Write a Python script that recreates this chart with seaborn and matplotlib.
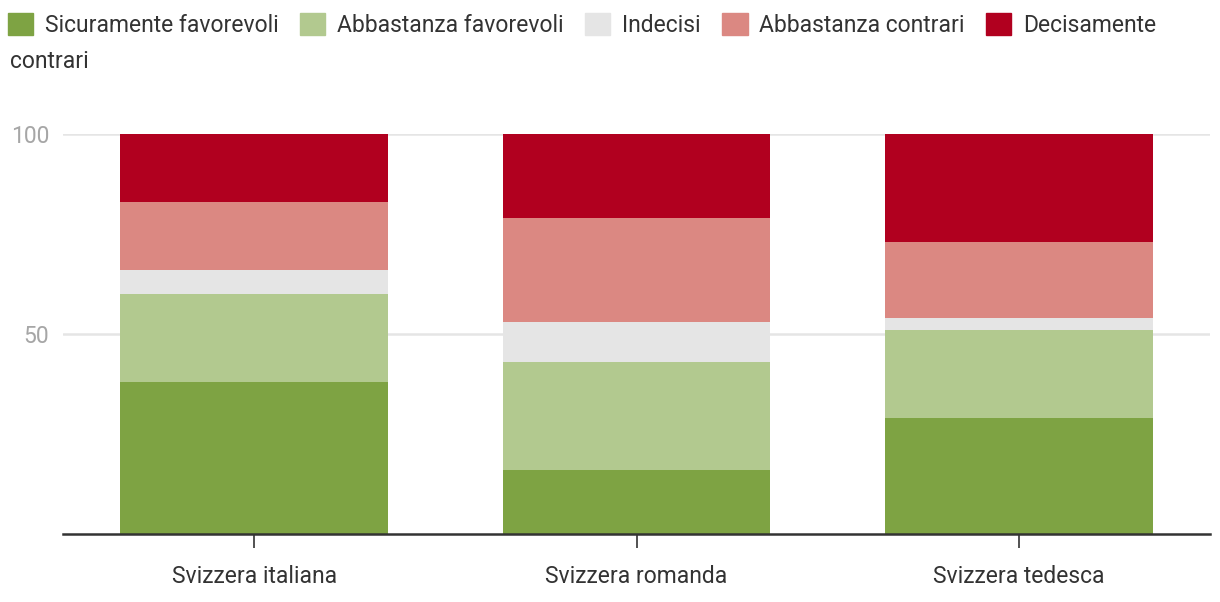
import numpy as np
import pandas as pd
import matplotlib
matplotlib.use("Agg")
import matplotlib.pyplot as plt
import matplotlib.patches as mpatches
import seaborn as sns

# Data (percent)
regions = ["Svizzera italiana", "Svizzera romanda", "Svizzera tedesca"]
categories = ["Sicuramente favorevoli", "Abbastanza favorevoli", "Indecisi",
              "Abbastanza contrari", "Decisamente contrari"]
sicuramente_fav = [38, 16, 29]
abbastanza_fav = [22, 27, 22]
indecisi = [6, 10, 3]
abbastanza_con = [17, 26, 19]
decisamente_con = [17, 21, 27]
colors = ["#7ea343", "#b2c98f", "#e5e5e5", "#db8882", "#b1001f"]

series = [sicuramente_fav, abbastanza_fav, indecisi, abbastanza_con, decisamente_con]
df = pd.DataFrame({"region": regions})
for cat, vals in zip(categories, series):
    df[cat] = vals
# cumulative tops so bars can be layered from the top down
cum = df[categories].cumsum(axis=1)

sns.set_style("white")
plt.rcParams["font.family"] = ["Roboto", "DejaVu Sans"]

fig = plt.figure(figsize=(12.2, 6.02), dpi=100)
ax = fig.add_axes([63 / 1220, 68 / 602, 1147 / 1220, 400 / 602])

for cat, col in reversed(list(zip(categories, colors))):
    sns.barplot(x=df["region"], y=cum[cat], color=col, width=0.7,
                saturation=1, linewidth=0, edgecolor="none", ax=ax, zorder=3)

ax.set_xlim(-0.5, 2.5)
ax.set_ylim(0, 100)
ax.set_yticks([50, 100])
ax.set_xlabel("")
ax.set_ylabel("")
ax.grid(axis="y", color="#e5e5e5", linewidth=1.8, zorder=0)
ax.set_axisbelow(True)
for s in ["top", "right", "left"]:
    ax.spines[s].set_visible(False)
ax.spines["bottom"].set_color("#333333")
ax.spines["bottom"].set_linewidth(1.8)
ax.spines["bottom"].set_zorder(5)
ax.tick_params(axis="x", bottom=True, direction="out", length=10, width=1.2,
               color="#333333", labelsize=16.5, labelcolor="#333333", pad=12)
ax.tick_params(axis="y", left=False, length=0, labelsize=16.5,
               labelcolor="#a6a6a6", pad=10)

# legend (wraps onto a second line in the reference)
handles = [mpatches.Patch(color=c) for c in colors]
labels = categories[:-1] + ["Decisamente"]
fig.legend(handles, labels, loc="upper left", bbox_to_anchor=(0.0, 1 - 5 / 602),
           ncol=5, frameon=False, fontsize=16.5, handlelength=1.1,
           handleheight=1.1, handletextpad=0.5, columnspacing=0.95,
           borderaxespad=0, borderpad=0.35, labelcolor="#333333")
fig.text(10 / 1220, 1 - 61 / 602, "contrari", fontsize=16.5, color="#333333",
         va="center", ha="left")

fig.savefig("out.png", dpi=100)
